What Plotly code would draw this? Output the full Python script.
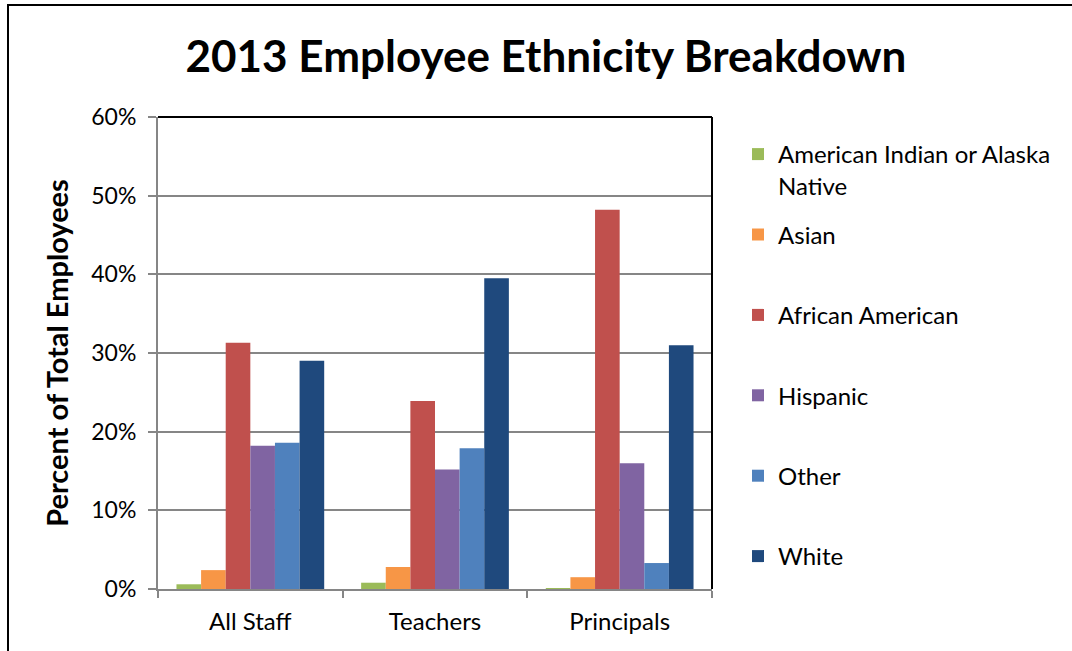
import plotly.graph_objects as go

# Share of employees by ethnicity (percent) for each staff category
categories = ["All Staff", "Teachers", "Principals"]
ethnicities = [
    "American Indian or Alaska<br>Native",
    "Asian<br> ",
    "African American<br> ",
    "Hispanic<br> ",
    "Other<br> ",
    "White<br> ",
]
american_indian = [0.6, 0.8, 0.1]
asian = [2.4, 2.8, 1.5]
african_american = [31.3, 23.9, 48.2]
hispanic = [18.2, 15.2, 16.0]
other = [18.6, 17.9, 3.3]
white = [29.0, 39.5, 31.0]
series_values = [american_indian, asian, african_american, hispanic, other, white]
colors = ["#9BBB59", "#F79646", "#C0504D", "#8064A2", "#4F81BD", "#1F497D"]
y_ticks = [0, 10, 20, 30, 40, 50, 60]

FONT = "Lato"
W, H = 1072, 651
L, R, T, B = 158, 712, 117, 589  # plot area in pixels


def px_x(px):
    return (px - L) / (R - L)


def px_y(py):
    return (B - py) / (B - T)


fig = go.Figure()
for i, (name, vals, col) in enumerate(zip(ethnicities, series_values, colors)):
    fig.add_trace(go.Bar(
        x=categories, y=[v / 100 for v in vals], name=name,
        marker=dict(color=col, line=dict(width=0)),
        legendgroup=f"g{i}",
    ))

fig.update_layout(
    width=W, height=H,
    margin=dict(l=L, r=W - R, t=T, b=H - B),
    paper_bgcolor="white", plot_bgcolor="white",
    barmode="group", bargap=0.2, bargroupgap=0,
    font=dict(family=FONT, size=23, color="black"),
    title=dict(text="<b>2013 Employee Ethnicity Breakdown</b>",
               font=dict(family=FONT, size=44, color="black"),
               x=546 / W, xanchor="center", y=1 - 57 / H, yanchor="middle"),
    showlegend=True,
    legend=dict(x=px_x(738), xanchor="left", y=px_y(132), yanchor="top",
                font=dict(family=FONT, size=24, color="black"),
                tracegroupgap=15, itemwidth=30, valign="top",
                maxheight=620, bgcolor="rgba(0,0,0,0)"),
    xaxis=dict(showline=True, linecolor="#868686", linewidth=2,
               ticks="outside", tickson="boundaries", ticklen=7,
               tickcolor="#868686", tickwidth=2, ticklabelstandoff=10,
               tickfont=dict(family=FONT, size=24, color="black"),
               showgrid=False),
    yaxis=dict(range=[0, 0.6], tickvals=[v / 100 for v in y_ticks],
               tickformat=".0%", showline=True, linecolor="#868686",
               linewidth=2, ticks="outside", ticklen=8, tickcolor="#868686",
               tickwidth=2, ticklabelstandoff=7,
               showgrid=True, gridcolor="#868686", gridwidth=1.8,
               tickfont=dict(family=FONT, size=23, color="black"),
               title=dict(text="<b>Percent of Total Employees</b>",
                          font=dict(family=FONT, size=29, color="black"),
                          standoff=14),
               zeroline=False),
    shapes=[
        # outer chart frame
        dict(type="rect", xref="paper", yref="paper",
             x0=px_x(8), x1=px_x(1100), y0=px_y(700), y1=px_y(5),
             line=dict(color="black", width=2), layer="below"),
        # plot area frame (top and right)
        dict(type="line", xref="paper", yref="paper",
             x0=0, x1=1, y0=1, y1=1, line=dict(color="black", width=2)),
        dict(type="line", xref="paper", yref="paper",
             x0=1, x1=1, y0=0, y1=1, line=dict(color="black", width=2)),
    ],
)

fig.write_html("out.html")
